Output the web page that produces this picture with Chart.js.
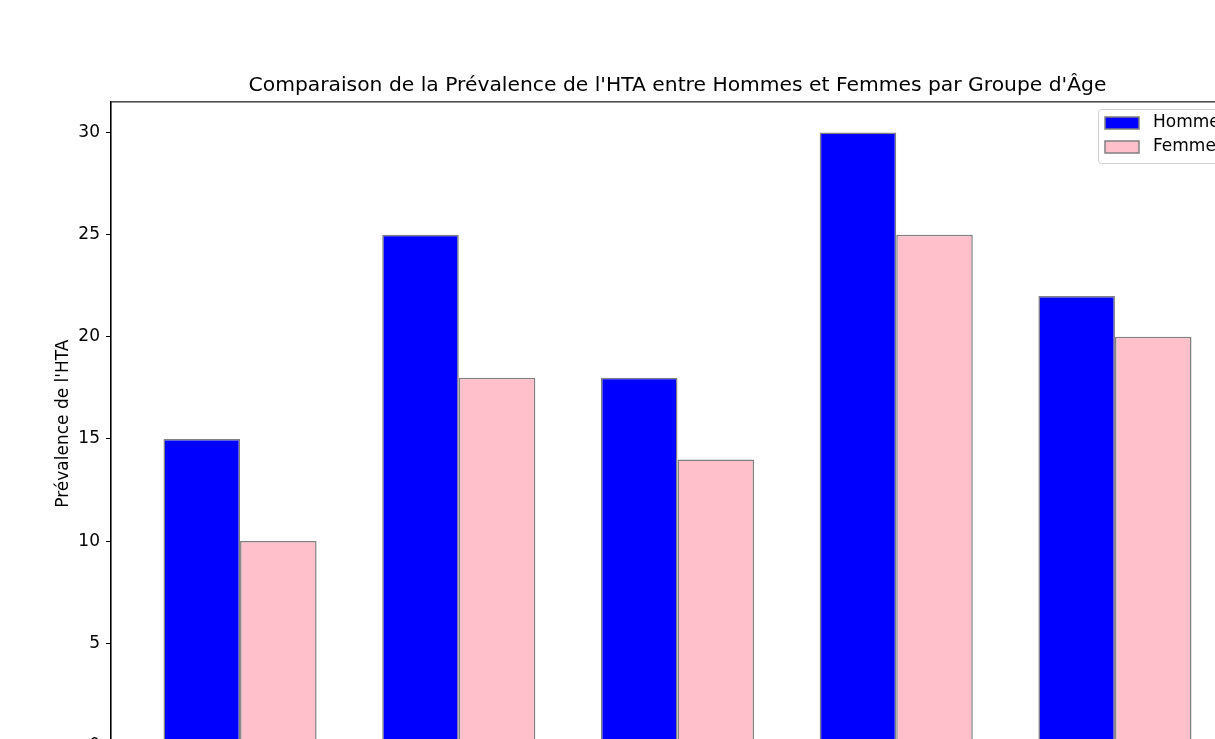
<!DOCTYPE html>
<html>
<head>
<meta charset="utf-8">
<script src="https://cdn.jsdelivr.net/npm/chart.js@4/dist/chart.umd.min.js"></script>
<style>
  html, body { margin: 0; padding: 0; background: #fff; overflow: hidden; }
  #wrap { width: 1290px; height: 810px; }
</style>
</head>
<body>
<div id="wrap"><canvas id="hta-chart" width="1290" height="810"></canvas></div>
<script>
// --- Data ---
const groupesAge = ['18-29 ans', '30-39 ans', '40-49 ans', '50-59 ans', '60 ans et +'];
const hommes = [15, 25, 18, 30, 22];
const femmes = [10, 18, 14, 25, 20];
const yTicks = [0, 5, 10, 15, 20, 25, 30];

const FONT = 'DejaVu Sans';

// frame round the plot area (matplotlib spines)
const framePlugin = {
  id: 'frame',
  afterDatasetsDraw(chart) {
    const { ctx, chartArea: a } = chart;
    ctx.save();
    ctx.strokeStyle = '#000';
    ctx.lineWidth = 1.1;
    ctx.strokeRect(a.left, a.top, a.right - a.left, a.bottom - a.top);
    ctx.restore();
  }
};

// legend in the upper right corner, inside the axes
const legendPlugin = {
  id: 'innerLegend',
  afterDraw(chart) {
    const { ctx } = chart;
    const x0 = 1098, y0 = 109, w = 137, h = 54;
    ctx.save();
    ctx.fillStyle = 'rgba(255,255,255,0.8)';
    ctx.strokeStyle = 'rgba(204,204,204,0.9)';
    ctx.lineWidth = 1;
    ctx.beginPath();
    ctx.roundRect(x0 + 0.5, y0 + 0.5, w, h, 3);
    ctx.fill();
    ctx.stroke();
    ctx.font = '17px ' + FONT;
    ctx.textBaseline = 'middle';
    chart.data.datasets.forEach((ds, i) => {
      const py = y0 + 8 + i * 24;
      ctx.fillStyle = ds.backgroundColor;
      ctx.fillRect(1105, py, 34, 12);
      ctx.strokeStyle = ds.borderColor;
      ctx.lineWidth = 1.5;
      ctx.strokeRect(1105, py, 34, 12);
      ctx.fillStyle = '#000';
      ctx.fillText(ds.label, 1153, py + 6);
    });
    ctx.restore();
  }
};

const ctx = document.getElementById('hta-chart').getContext('2d');
new Chart(ctx, {
  type: 'bar',
  data: {
    datasets: [
      {
        label: 'Hommes',
        data: hommes.map((v, i) => ({ x: i, y: v })),
        backgroundColor: '#0000ff',
        borderColor: '#808080',
        borderWidth: 1.5,
        borderSkipped: false
      },
      {
        label: 'Femmes',
        data: femmes.map((v, i) => ({ x: i, y: v })),
        backgroundColor: '#ffc0cb',
        borderColor: '#808080',
        borderWidth: 1.5,
        borderSkipped: false
      }
    ]
  },
  options: {
    responsive: false,
    animation: false,
    devicePixelRatio: 1,
    categoryPercentage: 0.7,
    barPercentage: 1.0,
    layout: { padding: { left: 0, right: 46, top: 0, bottom: 0 } },
    plugins: {
      legend: { display: false },
      tooltip: { enabled: false },
      title: {
        display: true,
        fullSize: false,
        text: "Comparaison de la Prévalence de l'HTA entre Hommes et Femmes par Groupe d'Âge",
        color: '#000',
        font: { family: FONT, size: 20.3, weight: 'normal' },
        padding: { top: 73.5, bottom: 4 }
      }
    },
    scales: {
      x: {
        type: 'linear',
        min: -0.59,
        max: 4.59,
        offset: false,
        afterBuildTicks: s => { s.ticks = groupesAge.map((_, i) => ({ value: i })); },
        afterFit: s => { s.height = 64.6; },
        ticks: {
          callback: v => groupesAge[v] || '',
          color: '#000',
          font: { family: FONT, size: 17 }
        },
        grid: { drawOnChartArea: false, drawTicks: true, tickLength: 5, color: '#000' },
        border: { color: '#000', width: 1.1 }
      },
      y: {
        min: 0,
        max: 31.5,
        afterBuildTicks: s => { s.ticks = yTicks.map(v => ({ value: v })); },
        afterFit: s => { s.width = 111; },
        ticks: {
          color: '#000',
          padding: 6,
          font: { family: FONT, size: 17 }
        },
        grid: { drawOnChartArea: false, drawTicks: true, tickLength: 5, color: '#000' },
        border: { color: '#000', width: 1.1 },
        title: {
          display: true,
          text: "Prévalence de l'HTA",
          color: '#000',
          font: { family: FONT, size: 17 },
          padding: { top: 53, bottom: 0 }
        }
      }
    }
  },
  plugins: [framePlugin, legendPlugin]
});
</script>
</body>
</html>
